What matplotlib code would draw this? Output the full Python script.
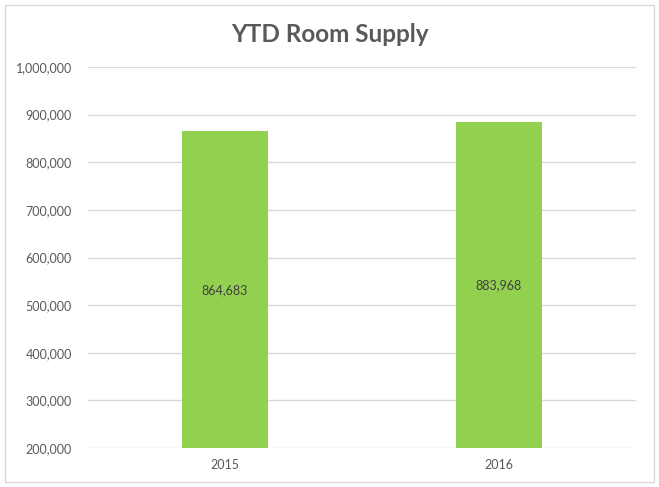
import matplotlib
matplotlib.use("Agg")
import matplotlib.pyplot as plt
from matplotlib.ticker import FuncFormatter
from matplotlib.patches import Rectangle

categories = ["2015", "2016"]
values = [864683, 883968]
yticks = [200000, 300000, 400000, 500000, 600000, 700000, 800000, 900000, 1000000]

plt.rcParams['font.family'] = ['Lato', 'DejaVu Sans']

fig = plt.figure(figsize=(6.59, 4.87), dpi=100)
ax = fig.add_axes([0.1335, 0.080, 0.8315, 0.7824])

x = list(range(len(categories)))
ymin = yticks[0]
bars = ax.bar(x, [v - ymin for v in values], bottom=ymin, width=0.314, color="#92D050", zorder=3)

ax.set_ylim(yticks[0], yticks[-1])
ax.set_xlim(-0.5, len(categories) - 0.5)
ax.set_yticks(yticks)
ax.yaxis.set_major_formatter(FuncFormatter(lambda v, p: f"{int(v):,}"))
ax.set_xticks(x)
ax.set_xticklabels(categories)
ax.tick_params(axis="both", length=0, labelsize=9, colors="#595959", pad=8)
ax.tick_params(axis="y", pad=11.5)
ax.grid(axis="y", color="#D9D9D9", linewidth=1, zorder=0)
for s in ax.spines.values():
    s.set_visible(False)

for xi, v in zip(x, values):
    ax.text(xi, (v + ymin) / 2, f"{v:,}", ha="center", va="center", fontsize=9, color="#404040", zorder=4)

fig.text(0.5, 1 - 35 / 487, "YTD Room Supply", ha="center", va="center", fontsize=17.5, fontweight="bold", color="#595959")

fig.patches.append(Rectangle((5 / 659, 5 / 487), 649 / 659, 477 / 487, transform=fig.transFigure,
                             fill=False, edgecolor="#D9D9D9", linewidth=1))

fig.savefig("out.png", dpi=100)
